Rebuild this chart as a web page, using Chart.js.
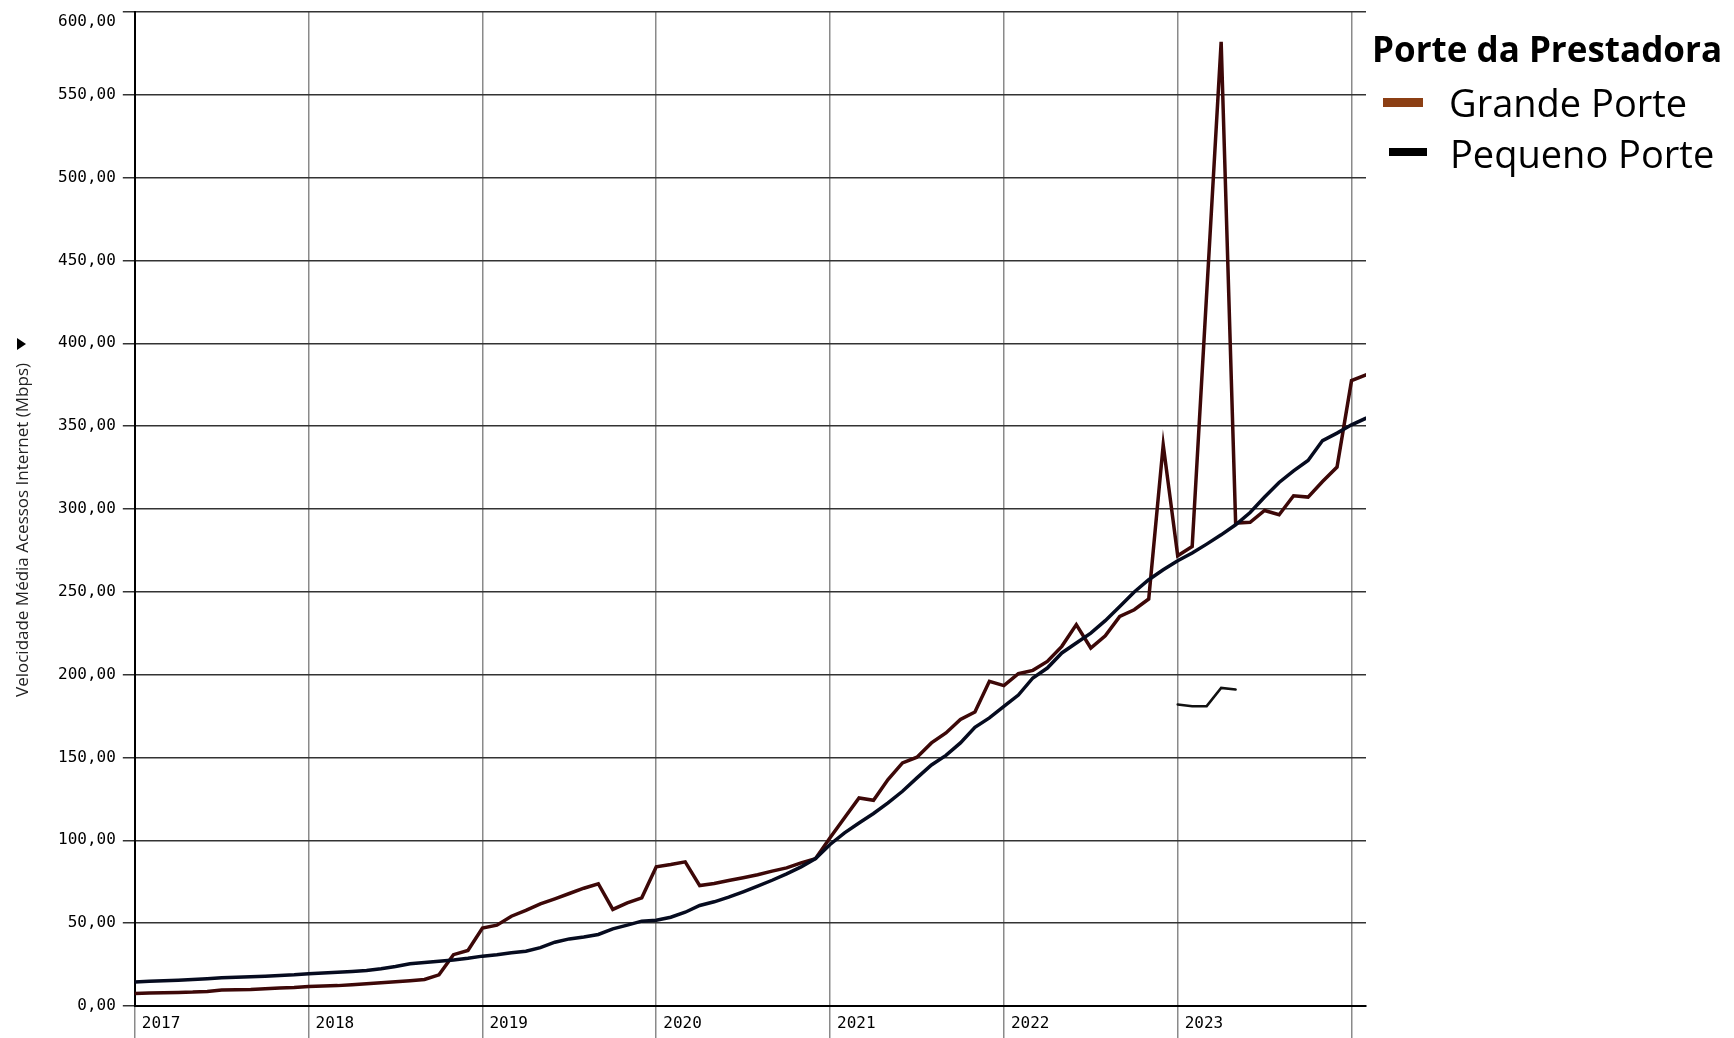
<!DOCTYPE html>
<html>
<head>
<meta charset="utf-8">
<title>Velocidade Média Acessos Internet</title>
<script src="https://cdn.jsdelivr.net/npm/chart.js@4.4.0/dist/chart.umd.min.js"></script>
<style>
    html, body { margin: 0; padding: 0; background: #fff; }
</style>
</head>
<body>
<canvas id="velChart" width="1734" height="1038"></canvas>
<script>
// mensal, indice 0 = jan/2017
const yearLabels = ['2017', '2018', '2019', '2020', '2021', '2022', '2023'];
const yearTicks = [0, 12, 24, 36, 48, 60, 72, 84];
const yTicks = [0, 50, 100, 150, 200, 250, 300, 350, 400, 450, 500, 550, 600];

const grandePorte = [
    7.6, 7.8, 8.0, 8.2, 8.4, 8.8, 9.6, 9.8, 10.0, 10.4, 10.8, 11.2,
    11.8, 12.0, 12.3, 12.8, 13.4, 14.0, 14.6, 15.3, 16.0, 18.8, 31.0, 33.5,
    47.0, 48.8, 54.2, 57.7, 61.7, 64.7, 67.9, 71.1, 73.8, 58.3, 62.3, 65.3,
    84.0, 85.4, 87.0, 72.7, 73.9, 75.8, 77.4, 79.2, 81.4, 83.4, 86.4, 89.0,
    101.5, 113.6, 125.6, 124.2, 136.7, 146.7, 150.2, 158.8, 164.8, 172.9, 177.5, 196.0,
    193.4, 200.6, 202.6, 208.0, 217.1, 230.2, 216.1, 223.5, 235.2, 239.2, 245.7, 338.7,
    271.8, 277.4, 430.0, 582.0, 291.5, 292.0, 299.1, 296.5, 308.0, 307.2, 316.6, 325.3,
    377.5, 381.0
];

const pequenoPorte = [
    14.5, 15.0, 15.3, 15.6, 16.0, 16.5, 17.0, 17.3, 17.6, 18.0, 18.4, 18.8,
    19.4, 19.9, 20.3, 20.8, 21.4, 22.5, 23.8, 25.5, 26.3, 27.0, 27.7, 28.8,
    30.1, 31.0, 32.1, 33.1, 35.2, 38.5, 40.5, 41.7, 43.2, 46.6, 48.8, 51.2,
    51.8, 53.6, 56.6, 60.7, 62.9, 65.7, 68.9, 72.3, 75.9, 79.8, 84.0, 89.0,
    97.5, 104.5, 110.5, 116.2, 122.6, 129.6, 137.7, 145.5, 151.3, 158.8, 168.2, 173.9,
    180.9, 187.7, 198.0, 204.0, 213.1, 219.1, 225.1, 232.6, 241.2, 249.9, 257.3, 263.3,
    268.8, 273.4, 278.8, 284.4, 290.5, 297.9, 307.2, 316.0, 323.0, 329.3, 341.3, 345.8,
    350.8, 354.8
];

// trecho solto (jan-mai/2023)
const trechoInicio = 72;
const trechoSolto = [182, 181, 181, 192, 191];

const axisTitle = 'Velocidade Média Acessos Internet (Mbps)';
const legendTitle = 'Porte da Prestadora';
const legendNames = ['Grande Porte', 'Pequeno Porte'];
const legendColors = ['#8c3f14', '#000000'];

const toPoints = (arr, start) => arr.map((v, i) => ({ x: start + i, y: v }));
const fmt = v => v.toFixed(2).replace('.', ',');

const extrasPlugin = {
    id: 'extras',
    afterDraw: function(chart) {
        const ctx = chart.ctx;

        // titulo do eixo y
        ctx.save();
        ctx.translate(23, 530);
        ctx.rotate(-Math.PI / 2);
        ctx.font = '17px "Open Sans"';
        ctx.fillStyle = '#222';
        ctx.textAlign = 'center';
        ctx.textBaseline = 'middle';
        ctx.fillText(axisTitle, 0, 0);
        ctx.restore();

        // setinha
        ctx.save();
        ctx.fillStyle = '#000';
        ctx.beginPath();
        ctx.moveTo(17, 338);
        ctx.lineTo(26, 344);
        ctx.lineTo(17, 350);
        ctx.closePath();
        ctx.fill();
        ctx.restore();

        // legenda
        ctx.save();
        ctx.fillStyle = '#000';
        ctx.textAlign = 'left';
        ctx.textBaseline = 'alphabetic';
        ctx.font = 'bold 35px "Open Sans"';
        ctx.fillText(legendTitle, 1372, 62);
        ctx.font = '38px "Open Sans"';
        ctx.fillStyle = legendColors[0];
        ctx.fillRect(1383, 98, 40, 9);
        ctx.fillStyle = '#000';
        ctx.fillText(legendNames[0], 1449, 117);
        ctx.fillStyle = legendColors[1];
        ctx.fillRect(1389, 148, 38, 8);
        ctx.fillStyle = '#000';
        ctx.fillText(legendNames[1], 1450, 168);
        ctx.restore();
    }
};

const tickFont = { family: 'DejaVu Sans Mono', size: 16 };

new Chart(document.getElementById('velChart').getContext('2d'), {
    type: 'line',
    data: {
        datasets: [{
            label: legendNames[1],
            data: toPoints(pequenoPorte, 0),
            borderColor: '#060b1f',
            borderWidth: 3.5,
            order: 0
        }, {
            label: legendNames[0],
            data: toPoints(grandePorte, 0),
            borderColor: '#3d0808',
            borderWidth: 3.5,
            order: 1
        }, {
            label: 'trecho',
            data: toPoints(trechoSolto, trechoInicio),
            borderColor: '#111',
            borderWidth: 2.5,
            order: 2
        }]
    },
    options: {
        responsive: false,
        animation: false,
        elements: {
            point: { radius: 0 },
            line: { tension: 0, borderCapStyle: 'round', borderJoinStyle: 'miter' }
        },
        layout: { padding: { left: 0, top: 12, right: 368, bottom: 0 } },
        plugins: {
            legend: { display: false },
            tooltip: { enabled: false }
        },
        scales: {
            x: {
                type: 'linear',
                min: 0,
                max: 85,
                afterBuildTicks: function(scale) {
                    scale.ticks = yearTicks.map(v => ({ value: v }));
                },
                afterFit: function(scale) {
                    scale.height = 32;
                    scale.paddingLeft = 0;
                    scale.paddingRight = 0;
                },
                grid: { color: '#8a8a8a', lineWidth: 1.5, tickLength: 32 },
                border: { color: '#000', width: 2 },
                ticks: {
                    align: 'start',
                    labelOffset: 7,
                    padding: -24,
                    maxRotation: 0,
                    autoSkip: false,
                    color: '#000',
                    font: tickFont,
                    callback: v => yearLabels[v / 12] || ''
                }
            },
            y: {
                min: 0,
                max: 600,
                afterBuildTicks: function(scale) {
                    scale.ticks = yTicks.map(v => ({ value: v }));
                },
                afterFit: function(scale) {
                    scale.width = 134.8;
                    scale.paddingTop = 0;
                    scale.paddingBottom = 0;
                },
                grid: { color: '#333', lineWidth: 1.5, tickLength: 12 },
                border: { color: '#000', width: 2 },
                ticks: {
                    padding: 7,
                    color: '#000',
                    font: tickFont,
                    // o rotulo do topo fica empurrado para baixo da linha
                    callback: v => v === 600 ? ['', fmt(v)] : fmt(v)
                }
            }
        }
    },
    plugins: [extrasPlugin]
});
</script>
</body>
</html>
